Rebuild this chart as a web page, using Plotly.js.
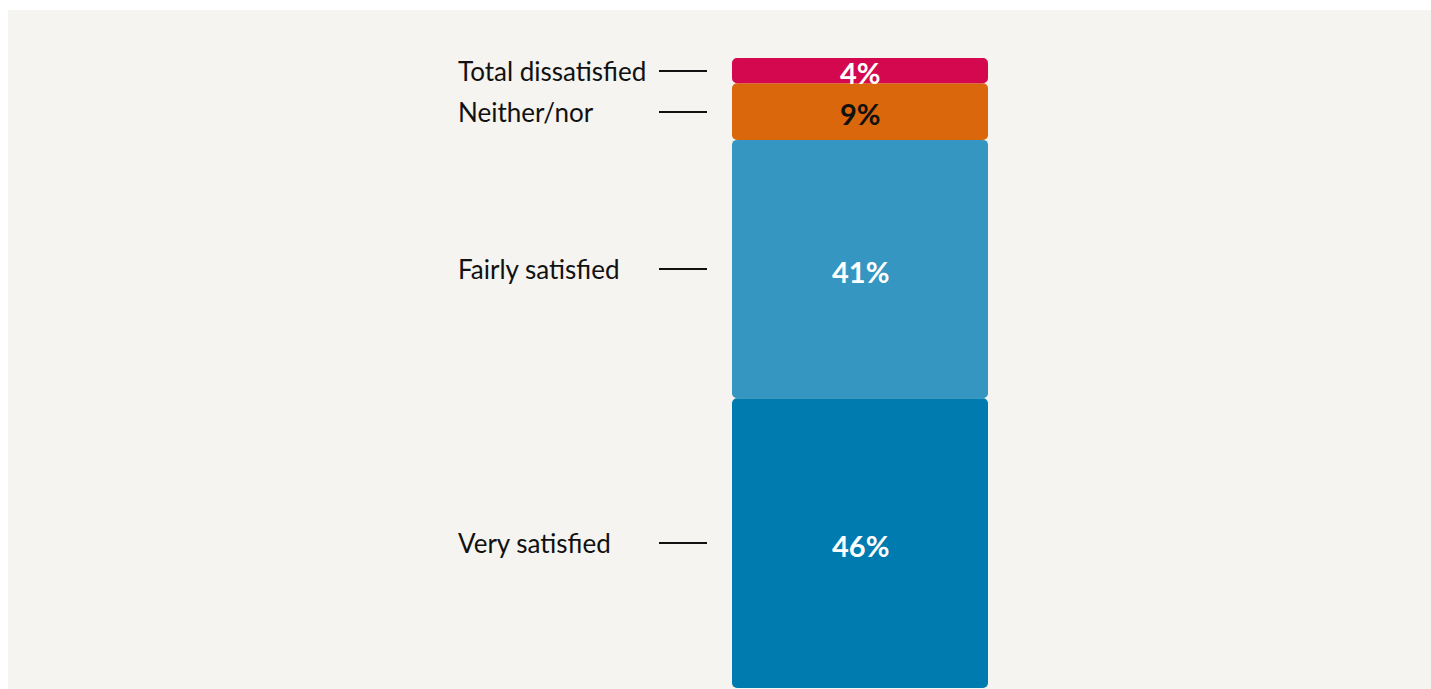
<!DOCTYPE html>
<html>
<head>
<meta charset="utf-8">
<script src="https://cdn.plot.ly/plotly-3.0.1.min.js"></script>
<style>html,body{margin:0;padding:0;background:#fff;}#chart{width:1431px;height:689px;}</style>
</head>
<body>
<div id="chart"></div>
<script>
// Data (bottom to top)
const categories = ["Very satisfied", "Fairly satisfied", "Neither/nor", "Total dissatisfied"];
const values = [46, 41, 9, 4];
const valueLabels = ["46%", "41%", "9%", "4%"];
const colors = ["#007bb0", "#3596c1", "#da670b", "#d4084f"];
const labelColors = ["#ffffff", "#ffffff", "#111111", "#ffffff"];

const PANEL = "#f5f4f0";
const W = 1431, H = 689;
const plotL = 708, plotR = 1012, plotT = 58, plotB = 688;
const plotW = plotR - plotL;
const barWidth = 256 / plotW;

// cumulative bases and mids
const bases = [], mids = [];
let cum = 0;
values.forEach(v => { bases.push(cum); mids.push(cum + v / 2); cum += v; });

const traces = values.map((v, i) => ({
  type: "bar", x: [0], y: [v], base: [bases[i]], width: [barWidth],
  marker: { color: colors[i], cornerradius: 5, line: { width: 0 } },
  hoverinfo: "skip", showlegend: false
}));

const annotations = categories.map((c, i) => ({
  text: c, xref: "paper", yref: "y", x: (456 - plotL) / plotW, y: mids[i],
  xanchor: "left", yanchor: "middle", showarrow: false,
  font: { family: "Lato, 'Noto Sans', sans-serif", size: 26, color: "#111111" }
}));

valueLabels.forEach((t, i) => annotations.push({
  text: t, xref: "x", yref: "y", x: 0, y: mids[i], yshift: -2,
  xanchor: "center", yanchor: "middle", showarrow: false,
  font: { family: "Lato, 'Noto Sans', sans-serif", size: 29, color: labelColors[i], weight: 700 }
}));

const layout = {
  width: W, height: H,
  paper_bgcolor: "#ffffff", plot_bgcolor: "rgba(0,0,0,0)",
  margin: { l: plotL, r: W - plotR, t: plotT, b: H - plotB, pad: 0 },
  barmode: "overlay",
  showlegend: false,
  xaxis: { range: [-0.5, 0.5], visible: false, fixedrange: true },
  yaxis: {
    range: [0, 100], showgrid: false, zeroline: false, showline: false,
    tickvals: mids, ticktext: categories.map(() => ""), showticklabels: false,
    ticks: "outside", ticklen: 48, tickwidth: 2, tickcolor: "#111111", fixedrange: true
  },
  shapes: [{
    type: "rect", xref: "paper", yref: "paper", layer: "below", line: { width: 0 },
    fillcolor: PANEL,
    x0: (8 - plotL) / plotW, x1: (W - plotL) / plotW,
    y0: (plotB - H) / (plotB - plotT), y1: (plotB - 10) / (plotB - plotT)
  }],
  annotations: annotations
};

Plotly.newPlot("chart", traces, layout, { displayModeBar: false, staticPlot: true });
</script>
</body>
</html>
